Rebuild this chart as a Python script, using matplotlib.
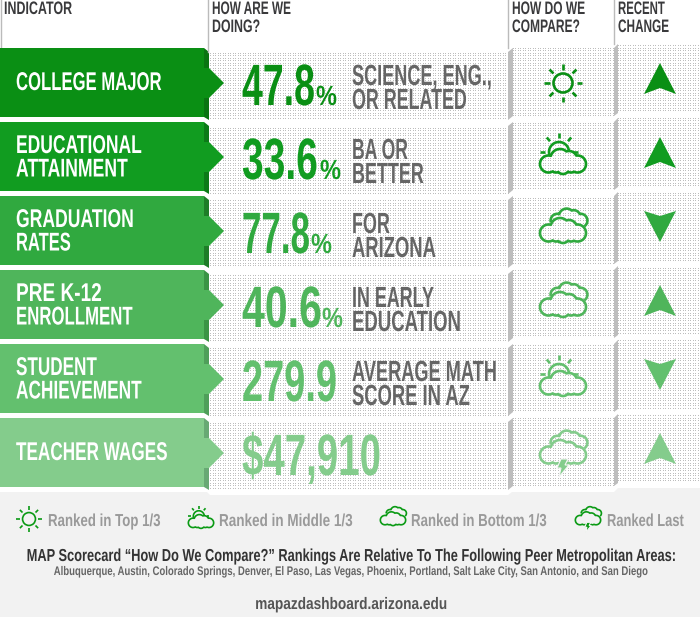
import matplotlib
matplotlib.use('Agg')
import matplotlib.pyplot as plt
import matplotlib.patheffects as pe
from matplotlib.patches import Polygon, Circle
from matplotlib.transforms import Affine2D
import numpy as np

# ── Data ─────────────────────────────────────────────────
indicators = [['COLLEGE MAJOR'], ['EDUCATIONAL', 'ATTAINMENT'], ['GRADUATION', 'RATES'],
              ['PRE K-12', 'ENROLLMENT'], ['STUDENT', 'ACHIEVEMENT'], ['TEACHER WAGES']]
values = ['47.8', '33.6', '77.8', '40.6', '279.9', '$47,910']
suffix = ['%', '%', '%', '%', '', '']
notes = [['SCIENCE, ENG.,', 'OR RELATED'], ['BA OR', 'BETTER'], ['FOR', 'ARIZONA'],
         ['IN EARLY', 'EDUCATION'], ['AVERAGE MATH', 'SCORE IN AZ'], []]
compare = ['top', 'middle', 'bottom', 'bottom', 'middle', 'last']
change = ['up', 'up', 'down', 'up', 'down', 'up']
legend_labels = ['Ranked in Top 1/3', 'Ranked in Middle 1/3', 'Ranked in Bottom 1/3', 'Ranked Last']
legend_ranks = ['top', 'middle', 'bottom', 'last']
title_line = 'MAP Scorecard \u201cHow Do We Compare?\u201d Rankings Are Relative To The Following Peer Metropolitan Areas:'
peer_line = 'Albuquerque, Austin, Colorado Springs, Denver, El Paso, Las Vegas, Phoenix, Portland, Salt Lake City, San Antonio, and San Diego'
site_line = 'mapazdashboard.arizona.edu'

# ── Palette ──────────────────────────────────────────────
row_colors = ['#0a8f14', '#119c20', '#30a93f', '#4fb55b', '#63c06e', '#84cc8c']
fold_colors = ['#0a7412', '#0c7a18', '#1e7d28', '#3a9445', '#4f9f5a', '#68a974']
fold_gray = '#bdbdbd'
foot_bg = '#f2f2f2'
head_color = '#3a3a3c'
note_color = '#666666'
legend_color = '#9a9a9a'
font = 'Liberation Sans'

# ── Text widths (Oswald is not installed) ──
name_w = [[146], [126, 112], [118, 55], [86, 117], [81, 126], [152]]
value_w = [73, 76, 68, 80, 95, 139]
pct_x = [316, 320, 311, 322, 0, 0]
note_w = [[140, 115], [56, 72], [38, 84], [82, 109], [145, 118], []]
legend_w = [113, 134, 136, 77]


class Tall(pe.AbstractPathEffect):
    # stretch the glyphs upward from the baseline, which gives a condensed look
    def __init__(self, sy, y0):
        super().__init__()
        self.sy, self.y0 = sy, y0

    def draw_path(self, renderer, gc, tpath, affine, rgbFace=None):
        tall = Affine2D().translate(0, -self.y0).scale(1, self.sy).translate(0, self.y0)
        renderer.draw_path(gc, tpath, affine + tall, rgbFace)


def label(x, y, s, size, color, width, weight='bold', ha='left', zorder=7):
    # size sets the glyph height; the real font size is lowered until the width fits
    t = ax.text(x, y, s, fontsize=size, color=color, fontweight=weight, ha=ha, va='baseline',
                family=font, zorder=zorder)
    sx = width / t.get_window_extent(fig.canvas.get_renderer()).width
    t.set_fontsize(size * sx)
    t.set_path_effects([Tall(1 / sx, 617 - y)])
    return t


# ── Figure setup ─────────────────────────────────────────
fig = plt.figure(figsize=(7, 6.17), dpi=100, facecolor='white')
ax = fig.add_axes([0, 0, 1, 1])
ax.set_xlim(0, 700)
ax.set_ylim(617, 0)
ax.axis('off')


def dots(x0, y0, x1, y1):
    # stippled panel texture
    yy, xx = np.mgrid[y0:y1, x0:x1]
    on = np.isin(xx % 5, [0, 3]) & np.isin(yy % 5, [0, 3])
    ax.imshow(np.where(on, 0.74, 1.0), extent=(x0, x1, y1, y0), cmap='gray', vmin=0, vmax=1,
              interpolation='nearest', aspect='auto', zorder=1)


# ── Icons ────────────────────────────────────────────────
def cloud_sd(cx, cy, s, gx, gy):
    lobes = [(-14.5, 2, 8.5), (-3, -3.5, 9.5), (6, -3, 8), (14.5, 2, 8.5), (0, 5.5, 6.5), (-7, 5, 5.5), (8, 5, 5.5)]
    d = [np.hypot(gx - (cx + a * s), gy - (cy + b * s)) - r * s for a, b, r in lobes]
    return np.min(d, axis=0)


def sun_rays(cx, cy, r0, r1, color, lw, angles, z):
    for a in np.radians(angles):
        ax.plot([cx + r0 * np.cos(a), cx + r1 * np.cos(a)], [cy - r0 * np.sin(a), cy - r1 * np.sin(a)],
                color=color, lw=lw, solid_capstyle='butt', zorder=z)


def draw_icon(kind, cx, cy, color, s=1.0, z=4):
    lw = 1.9 if s == 1.0 else 1.2
    if kind == 'top':
        if s != 1.0:
            s = 0.68
        ax.add_patch(Circle((cx, cy), 9.5 * s, fill=False, ec=color, lw=lw, zorder=z))
        sun_rays(cx, cy, 13.5 * s, 19 * s, color, lw, range(0, 360, 45), z)
        return
    gx, gy = np.meshgrid(np.linspace(cx - 34, cx + 34, 340), np.linspace(cy - 34, cy + 34, 340))
    shift = 5 * s if kind == 'middle' else 0
    front = cloud_sd(cx, cy + shift, s, gx, gy)
    ax.contour(gx, gy, front, levels=[0], colors=[color], linewidths=lw, zorder=z)
    if kind == 'middle':
        sx, sy = cx - 4 * s, cy - 5 * s
        t = np.linspace(0, 2 * np.pi, 200)
        px, py = sx + 10 * s * np.cos(t), sy + 10 * s * np.sin(t)
        inside = cloud_sd(cx, cy + shift, s, px, py) < 1
        ax.plot(np.ma.masked_where(inside, px), np.ma.masked_where(inside, py), color=color, lw=lw, zorder=z)
        sun_rays(sx, sy, 14 * s, 19 * s, color, lw, [0, 50, 90, 130, 180], z)
    if kind in ('bottom', 'last'):
        rear = cloud_sd(cx + 6 * s, cy - 12 * s, 0.8 * s, gx, gy)
        ax.contour(gx, gy, np.ma.masked_where(front < 1, rear), levels=[0], colors=[color],
                   linewidths=lw, zorder=z)
    if kind == 'last':
        ax.add_patch(Polygon([(cx - 2 * s, cy + 6 * s), (cx + 5 * s, cy + 6 * s), (cx + 2 * s, cy + 12 * s),
                              (cx + 6 * s, cy + 12 * s), (cx - 4 * s, cy + 24 * s), (cx - 2 * s, cy + 15 * s),
                              (cx - 6 * s, cy + 15 * s)], fc=color, ec='#f6f6f6', lw=0.8, zorder=z + 0.5))


# ── Rows ─────────────────────────────────────────────────
for i, name in enumerate(indicators):
    top = 48 + 74 * i
    color = row_colors[i]
    mid = top + 35

    dots(209, top + 4, 509, top + 72)
    dots(513, top, 614, top + 68)
    dots(618, top - 4, 700, top + 65)

    # folds between the panels
    ax.add_patch(Polygon([(204, top), (209, top + 4), (209, top + 72), (204, top + 69)], fc=fold_colors[i], zorder=2))
    ax.add_patch(Polygon([(508, top + 4), (513, top), (513, top + 68), (508, top + 72)], fc=fold_gray, zorder=2))
    ax.add_patch(Polygon([(614, top), (618, top - 4), (618, top + 65), (614, top + 68)], fc=fold_gray, zorder=2))

    # bar with arrow tip
    ax.add_patch(Polygon([(0, top), (204, top), (204, mid - 15), (209, mid - 15), (224, mid), (209, mid + 15),
                          (204, mid + 15), (204, top + 69), (0, top + 69)], fc=color, zorder=3))

    if len(name) == 1:
        label(16, top + 42, name[0], 18.5, 'white', name_w[i][0])
    else:
        label(16, top + 31, name[0], 18.5, 'white', name_w[i][0])
        label(16, top + 54.5, name[1], 18.5, 'white', name_w[i][1])

    label(242, top + 57, values[i], 42, color, value_w[i])
    if suffix[i]:
        label(pct_x[i], top + 57, suffix[i], 20, color, 21)
    for line, w, off in zip(notes[i], note_w[i], [37, 61]):
        label(352, top + off, line, 21, note_color, w)

    draw_icon(compare[i], 563, top + 35, color)

    # recent change arrow
    if change[i] == 'up':
        pts = [(660, top + 15), (676, top + 46), (660, top + 40), (644, top + 46)]
    else:
        pts = [(660, top + 46), (676, top + 15), (660, top + 20), (644, top + 15)]
    ax.add_patch(Polygon(pts, fc=color, zorder=4))

# ── Column headers ───────────────────────────────────────
for x, y1 in [(1, 48), (208, 52), (508, 48), (614, 44)]:
    ax.plot([x, x], [0, y1], color='#bbbbbb', lw=1, zorder=2)
label(4, 14, 'INDICATOR', 13, head_color, 68)
label(212, 14, 'HOW ARE WE', 13, head_color, 79)
label(212, 32, 'DOING?', 13, head_color, 48)
label(512, 14, 'HOW DO WE', 13, head_color, 73)
label(512, 32, 'COMPARE?', 13, head_color, 68)
label(618, 14, 'RECENT', 13, head_color, 47)
label(618, 32, 'CHANGE', 13, head_color, 51)

# ── Footer ───────────────────────────────────────────────
ax.add_patch(Polygon([(0, 492), (207, 492), (210, 495), (508, 495), (512, 492), (614, 492), (618, 488), (700, 488),
                      (700, 617), (0, 617)], fc=foot_bg, zorder=5))
legend_icon_x = [29, 201, 393, 588]
legend_text_x = [48, 219, 411, 607]
for lab, rank, ix, tx, w in zip(legend_labels, legend_ranks, legend_icon_x, legend_text_x, legend_w):
    draw_icon(rank, ix, 519, '#0a9a14', 0.55, z=6)
    label(tx, 526, lab, 12.5, legend_color, w)

label(350, 561, title_line, 12.5, '#333333', 650, ha='center')
label(350, 575, peer_line, 9, '#666666', 595, ha='center')
label(350.5, 609, site_line, 12, '#555555', 191, ha='center')

ax.set_xlim(0, 700)
ax.set_ylim(617, 0)
fig.savefig('out.png', dpi=100, facecolor='white')
